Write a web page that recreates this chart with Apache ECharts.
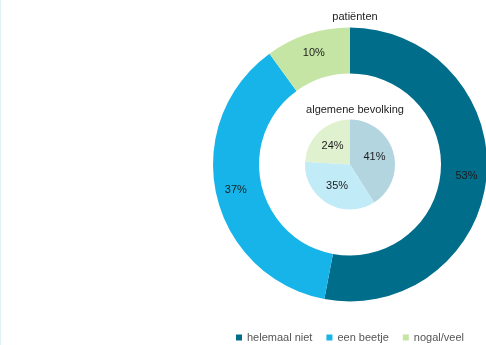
<!DOCTYPE html>
<html>
<head>
<meta charset="utf-8">
<script src="https://cdn.jsdelivr.net/npm/echarts@6/dist/echarts.min.js"></script>
<style>
  html, body { margin: 0; padding: 0; background: #fff; }
  #chart { width: 486px; height: 345px; }
</style>
</head>
<body>
<div id="chart"></div>
<script>
// Answer categories shared by both groups
const categories = ['helemaal niet', 'een beetje', 'nogal/veel'];
// Percentages per group
const patientValues = [53, 37, 10];
const populationValues = [41, 35, 24];
// Group titles
const outerTitle = 'patiënten';
const innerTitle = 'algemene bevolking';

const outerColors = ['#006d8b', '#16b4e8', '#c4e5a3'];
const innerColors = ['#b3d5df', '#c2ebf8', '#e0f1d0'];

const FONT = '"Liberation Sans", Arial, sans-serif';

const chart = echarts.init(document.getElementById('chart'), null, { renderer: 'canvas' });

function buildData(values, colors) {
  return categories.map((name, i) => ({
    name: name,
    value: values[i],
    itemStyle: { color: colors[i] }
  }));
}

const labelStyle = {
  show: true,
  position: 'inside',
  formatter: '{c}%',
  color: '#1c1c1c',
  fontSize: 11,
  fontFamily: FONT
};

chart.setOption({
  animation: false,
  title: [
    {
      text: outerTitle,
      left: 350, top: 6, textAlign: 'center',
      textStyle: { fontSize: 11, fontWeight: 'normal', color: '#222', fontFamily: FONT }
    },
    {
      text: innerTitle,
      left: 350, top: 99, textAlign: 'center',
      textStyle: { fontSize: 11, fontWeight: 'normal', color: '#222', fontFamily: FONT }
    }
  ],
  legend: {
    data: categories,
    left: 236,
    top: 332,
    icon: 'rect',
    itemWidth: 6,
    itemHeight: 6,
    itemGap: 14,
    textStyle: { fontSize: 11, color: '#555', fontFamily: FONT, padding: [0, 0, 0, 0] },
    padding: 0
  },
  graphic: [
    {
      type: 'line',
      shape: { x1: 0.5, y1: 0, x2: 0.5, y2: 345 },
      style: { stroke: '#e2f2f9', lineWidth: 1.5 }
    }
  ],
  series: [
    {
      name: outerTitle,
      type: 'pie',
      center: [350, 164.5],
      radius: [91, 137],
      startAngle: 90,
      clockwise: true,
      label: labelStyle,
      labelLine: { show: false },
      emphasis: { disabled: true },
      data: buildData(patientValues, outerColors)
    },
    {
      name: innerTitle,
      type: 'pie',
      center: [350, 164.5],
      radius: [0, 45],
      startAngle: 90,
      clockwise: true,
      label: labelStyle,
      labelLine: { show: false },
      emphasis: { disabled: true },
      data: buildData(populationValues, innerColors)
    }
  ]
});
</script>
</body>
</html>
